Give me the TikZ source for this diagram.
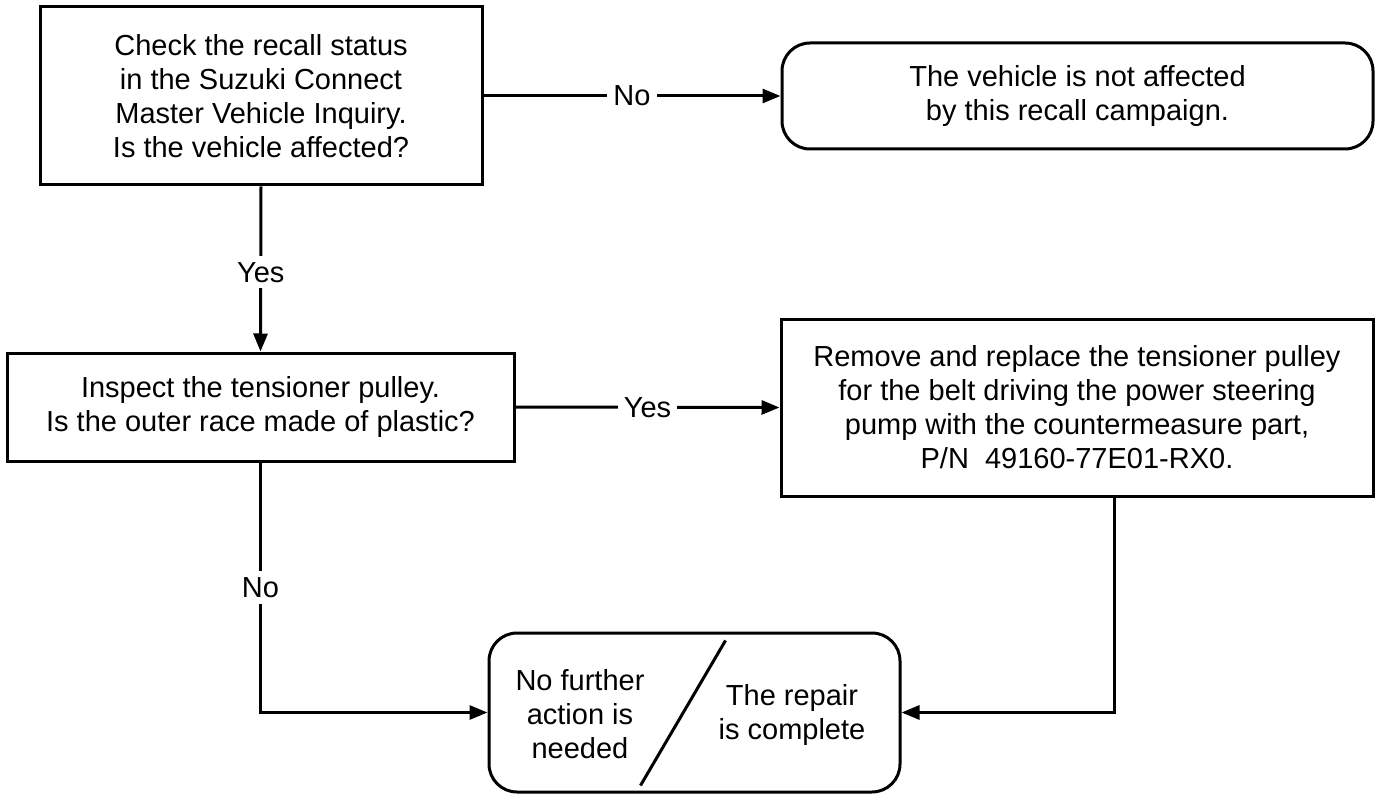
\documentclass[tikz,border=0pt]{standalone}
\usepackage{fontspec}
\setmainfont{Liberation Sans}
\usetikzlibrary{arrows.meta}
\begin{document}
\begin{tikzpicture}[x=1pt,y=-1pt,
  every node/.style={font=\fontsize{29}{34}\selectfont},
  box/.style={draw, line width=3pt, align=center, inner sep=0pt},
  rbox/.style={box, rounded corners=28pt},
  txt/.style={align=center, inner sep=0pt},
  lbl/.style={fill=white, inner sep=6pt},
  conn/.style={line width=3pt, -{Triangle[length=18pt,width=14pt]}},
  plain/.style={line width=3pt}]
\useasboundingbox (0,0) rectangle (1381,794);
\node[box, minimum width=442pt, minimum height=178pt] (b1) at (261,96)
  {Check the recall status\\in the Suzuki Connect\\Master Vehicle Inquiry.\\Is the vehicle affected?};
\node[rbox, minimum width=591pt, minimum height=106pt] (b2) at (1077.5,96)
  {The vehicle is not affected\\by this recall campaign.};
\node[box, minimum width=507pt, minimum height=108pt] (b3) at (260.5,407)
  {Inspect the tensioner pulley.\\Is the outer race made of plastic?};
\node[box, minimum width=592pt, minimum height=177pt] (b4) at (1077,407.5)
  {Remove and replace the tensioner pulley\\for the belt driving the power steering\\pump with the countermeasure part,\\P/N\ \ 49160-77E01-RX0.};
\node[rbox, minimum width=411pt, minimum height=159pt] (b5) at (694.5,712.5) {};
\node[txt] (t1) at (580,714) {No further\\action is\\needed};
\node[txt] (t2) at (792,715) {The repair\\is complete};
\path (b5.north west) ++(238,9) coordinate (d1);
\path (b5.south west) ++(153,-8) coordinate (d2);
\draw[plain] (d1) -- (d2);
\draw[conn] (b1.east) -- node[lbl]{No} (b2.west);
\draw[conn] (b1.south) -- node[lbl, pos=0.52]{Yes} (b3.north);
\draw[conn] (b3.east) -- node[lbl]{Yes} (b4.west);
\draw[conn] (b3.south) |- node[lbl, pos=0.25]{No} (b5.west);
\draw[conn] ([xshift=37pt]b4.south) |- (b5.east);
\end{tikzpicture}
\end{document}
